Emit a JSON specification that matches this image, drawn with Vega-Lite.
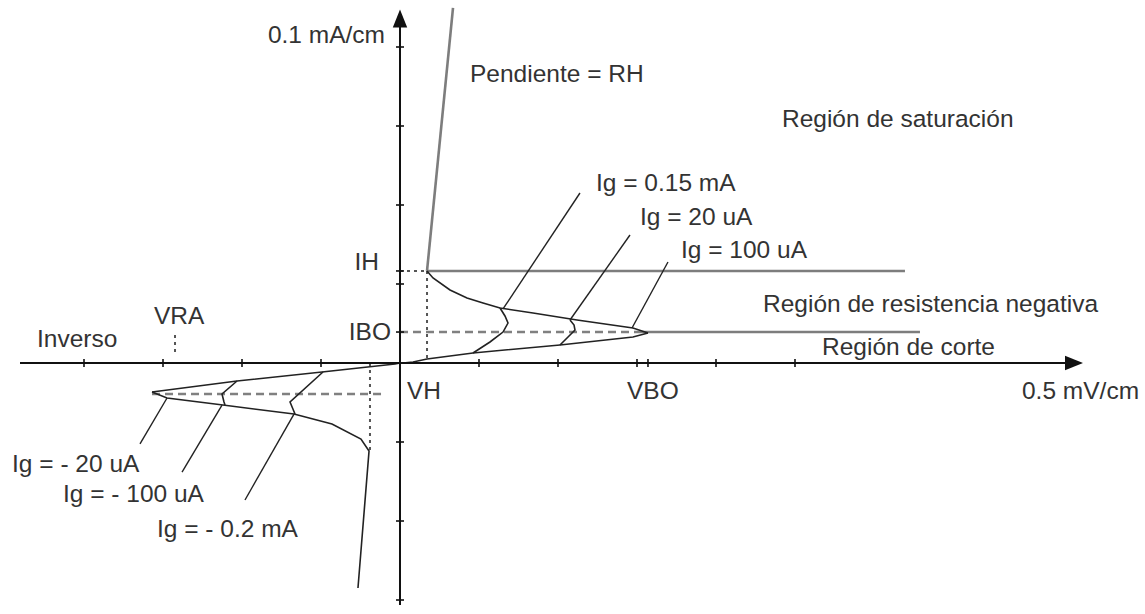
{
  "$schema": "https://vega.github.io/schema/vega-lite/v6.json",
  "width": 1145,
  "height": 614,
  "padding": 0,
  "autosize": {"type": "none"},
  "background": "white",
  "config": {"view": {"stroke": null}},
  "datasets": {
    "curves": [
      {"s": "fu", "i": 0, "x": 0.342, "y": 1.165},
      {"s": "fu", "i": 1, "x": 0.418, "y": 1.076},
      {"s": "fu", "i": 2, "x": 0.633, "y": 0.924},
      {"s": "fu", "i": 3, "x": 0.848, "y": 0.823},
      {"s": "fu", "i": 4, "x": 1.051, "y": 0.759},
      {"s": "fu", "i": 5, "x": 1.266, "y": 0.696},
      {"s": "fu", "i": 6, "x": 1.684, "y": 0.633},
      {"s": "fu", "i": 7, "x": 2.241, "y": 0.544},
      {"s": "fu", "i": 8, "x": 2.949, "y": 0.443},
      {"s": "fu", "i": 9, "x": 3.139, "y": 0.38},
      {"s": "fl", "i": 0, "x": 0.038, "y": 0},
      {"s": "fl", "i": 1, "x": 0.165, "y": 0.013},
      {"s": "fl", "i": 2, "x": 0.342, "y": 0.051},
      {"s": "fl", "i": 3, "x": 0.924, "y": 0.127},
      {"s": "fl", "i": 4, "x": 2.025, "y": 0.228},
      {"s": "fl", "i": 5, "x": 2.949, "y": 0.329},
      {"s": "fl", "i": 6, "x": 3.139, "y": 0.38},
      {"s": "fi", "i": 0, "x": 0.924, "y": 0.127},
      {"s": "fi", "i": 1, "x": 1.139, "y": 0.266},
      {"s": "fi", "i": 2, "x": 1.304, "y": 0.392},
      {"s": "fi", "i": 3, "x": 1.367, "y": 0.506},
      {"s": "fi", "i": 4, "x": 1.329, "y": 0.595},
      {"s": "fi", "i": 5, "x": 1.266, "y": 0.696},
      {"s": "fm", "i": 0, "x": 2.025, "y": 0.228},
      {"s": "fm", "i": 1, "x": 2.127, "y": 0.329},
      {"s": "fm", "i": 2, "x": 2.215, "y": 0.418},
      {"s": "fm", "i": 3, "x": 2.203, "y": 0.481},
      {"s": "fm", "i": 4, "x": 2.152, "y": 0.544},
      {"s": "ru", "i": 0, "x": 0, "y": 0},
      {"s": "ru", "i": 1, "x": -0.063, "y": -0.013},
      {"s": "ru", "i": 2, "x": -0.987, "y": -0.114},
      {"s": "ru", "i": 3, "x": -2.063, "y": -0.228},
      {"s": "ru", "i": 4, "x": -3.139, "y": -0.367},
      {"s": "rl", "i": 0, "x": -3.139, "y": -0.367},
      {"s": "rl", "i": 1, "x": -2.949, "y": -0.443},
      {"s": "rl", "i": 2, "x": -2.241, "y": -0.532},
      {"s": "rl", "i": 3, "x": -1.342, "y": -0.646},
      {"s": "rl", "i": 4, "x": -0.861, "y": -0.772},
      {"s": "rl", "i": 5, "x": -0.494, "y": -0.962},
      {"s": "rl", "i": 6, "x": -0.392, "y": -1.114},
      {"s": "rl", "i": 7, "x": -0.532, "y": -2.848},
      {"s": "rm", "i": 0, "x": -2.063, "y": -0.228},
      {"s": "rm", "i": 1, "x": -2.253, "y": -0.392},
      {"s": "rm", "i": 2, "x": -2.228, "y": -0.494},
      {"s": "rm", "i": 3, "x": -2.215, "y": -0.532},
      {"s": "ri", "i": 0, "x": -0.975, "y": -0.114},
      {"s": "ri", "i": 1, "x": -1.392, "y": -0.494},
      {"s": "ri", "i": 2, "x": -1.329, "y": -0.646}
    ],
    "leaders": [
      {"x": 2.278, "y": 2.152, "x2": 1.304, "y2": 0.684},
      {"x": 2.911, "y": 1.62, "x2": 2.152, "y2": 0.544},
      {"x": 3.392, "y": 1.278, "x2": 2.937, "y2": 0.443},
      {"x": -3.291, "y": -1.025, "x2": -2.949, "y2": -0.443},
      {"x": -2.759, "y": -1.38, "x2": -2.253, "y2": -0.532},
      {"x": -1.962, "y": -1.734, "x2": -1.342, "y2": -0.646}
    ],
    "gray": [
      {"x": 0.342, "y": 1.165, "x2": 0.671, "y2": 4.494},
      {"x": 0.342, "y": 1.165, "x2": 6.392, "y2": 1.165},
      {"x": 3.038, "y": 0.392, "x2": 6.582, "y2": 0.392}
    ],
    "dashed": [
      {"x": 0, "y": 0.392, "x2": 3.038, "y2": 0.392},
      {"x": -3.139, "y": -0.392, "x2": -0.177, "y2": -0.392}
    ],
    "dotted": [
      {"x": 0, "y": 1.165, "x2": 0.342, "y2": 1.165},
      {"x": 0.342, "y": 1.165, "x2": 0.342, "y2": 0.051},
      {"x": -0.38, "y": 0, "x2": -0.38, "y2": -1.114},
      {"x": -2.848, "y": 0.354, "x2": -2.848, "y2": 0.114}
    ],
    "axes": [
      {"x": -4.81, "y": 0, "x2": 8.456, "y2": 0},
      {"x": 0, "y": -3.063, "x2": 0, "y2": 4.278}
    ],
    "xticks": [
      {"x": -4, "y": 0}, {"x": -3, "y": 0}, {"x": -2, "y": 0}, {"x": -1, "y": 0},
      {"x": 1, "y": 0}, {"x": 2, "y": 0}, {"x": 3, "y": 0}, {"x": 3.139, "y": 0},
      {"x": 4, "y": 0}, {"x": 5, "y": 0}
    ],
    "yticks": [
      {"x": 0, "y": -3}, {"x": 0, "y": -2}, {"x": 0, "y": -1}, {"x": 0, "y": 0.392},
      {"x": 0, "y": 1}, {"x": 0, "y": 1.165}, {"x": 0, "y": 2}, {"x": 0, "y": 3}, {"x": 0, "y": 4}
    ],
    "arrowx": [{"x": 8.532, "y": 0}],
    "arrowy": [{"x": 0, "y": 4.361}],
    "labelsL": [
      {"x": 0.886, "y": 3.557, "t": "Pendiente = RH"},
      {"x": 4.835, "y": 2.987, "t": "Región de saturación"},
      {"x": 2.481, "y": 2.177, "t": "Ig = 0.15 mA"},
      {"x": 3.038, "y": 1.747, "t": "Ig = 20 uA"},
      {"x": 3.557, "y": 1.329, "t": "Ig = 100 uA"},
      {"x": 4.595, "y": 0.646, "t": "Región de resistencia negativa"},
      {"x": 5.342, "y": 0.101, "t": "Región de corte"},
      {"x": 7.873, "y": -0.456, "t": "0.5 mV/cm"},
      {"x": 0.089, "y": -0.456, "t": "VH"},
      {"x": 2.873, "y": -0.456, "t": "VBO"},
      {"x": -4.595, "y": 0.203, "t": "Inverso"},
      {"x": -3.114, "y": 0.494, "t": "VRA"},
      {"x": -4.911, "y": -1.38, "t": "Ig = - 20 uA"},
      {"x": -4.266, "y": -1.759, "t": "Ig = - 100 uA"},
      {"x": -3.076, "y": -2.203, "t": "Ig = - 0.2 mA"}
    ],
    "labelsR": [
      {"x": -0.19, "y": 4.051, "t": "0.1 mA/cm"},
      {"x": -0.266, "y": 1.177, "t": "IH"},
      {"x": -0.114, "y": 0.291, "t": "IBO"}
    ]
  },
  "encoding": {
    "x": {"field": "x", "type": "quantitative", "scale": {"domain": [-5.0633, 9.4304], "nice": false, "zero": false}, "axis": null},
    "y": {"field": "y", "type": "quantitative", "scale": {"domain": [-3.1772, 4.5949], "nice": false, "zero": false}, "axis": null}
  },
  "layer": [
    {
      "data": {"name": "gray"},
      "mark": {"type": "rule", "color": "#7d7d7d", "strokeWidth": 2.6},
      "encoding": {"x2": {"field": "x2"}, "y2": {"field": "y2"}}
    },
    {
      "data": {"name": "dashed"},
      "mark": {"type": "rule", "color": "#808080", "strokeWidth": 2.4, "strokeDash": [8, 5]},
      "encoding": {"x2": {"field": "x2"}, "y2": {"field": "y2"}}
    },
    {
      "data": {"name": "dotted"},
      "mark": {"type": "rule", "color": "#555555", "strokeWidth": 2, "strokeDash": [3, 4]},
      "encoding": {"x2": {"field": "x2"}, "y2": {"field": "y2"}}
    },
    {
      "data": {"name": "curves"},
      "mark": {"type": "line", "color": "#222222", "strokeWidth": 1.6, "interpolate": "linear"},
      "encoding": {"detail": {"field": "s", "type": "nominal"}, "order": {"field": "i", "type": "quantitative"}}
    },
    {
      "data": {"name": "leaders"},
      "mark": {"type": "rule", "color": "#222222", "strokeWidth": 1.4},
      "encoding": {"x2": {"field": "x2"}, "y2": {"field": "y2"}}
    },
    {
      "data": {"name": "axes"},
      "mark": {"type": "rule", "color": "#111111", "strokeWidth": 2},
      "encoding": {"x2": {"field": "x2"}, "y2": {"field": "y2"}}
    },
    {
      "data": {"name": "xticks"},
      "mark": {"type": "tick", "orient": "vertical", "size": 8, "thickness": 1.6, "color": "#111111", "opacity": 1}
    },
    {
      "data": {"name": "yticks"},
      "mark": {"type": "tick", "orient": "horizontal", "size": 8, "thickness": 1.6, "color": "#111111", "opacity": 1}
    },
    {
      "data": {"name": "arrowx"},
      "mark": {"type": "point", "shape": "M-1,-0.8L1,0L-1,0.8Z", "size": 324, "filled": true, "color": "#111111", "opacity": 1, "strokeWidth": 0}
    },
    {
      "data": {"name": "arrowy"},
      "mark": {"type": "point", "shape": "M-0.8,1L0,-1L0.8,1Z", "size": 324, "filled": true, "color": "#111111", "opacity": 1, "strokeWidth": 0}
    },
    {
      "data": {"name": "labelsL"},
      "mark": {"type": "text", "align": "left", "baseline": "alphabetic", "font": "Liberation Sans", "fontSize": 24.5, "color": "#333333"},
      "encoding": {"text": {"field": "t", "type": "nominal"}}
    },
    {
      "data": {"name": "labelsR"},
      "mark": {"type": "text", "align": "right", "baseline": "alphabetic", "font": "Liberation Sans", "fontSize": 24.5, "color": "#333333"},
      "encoding": {"text": {"field": "t", "type": "nominal"}}
    }
  ]
}
